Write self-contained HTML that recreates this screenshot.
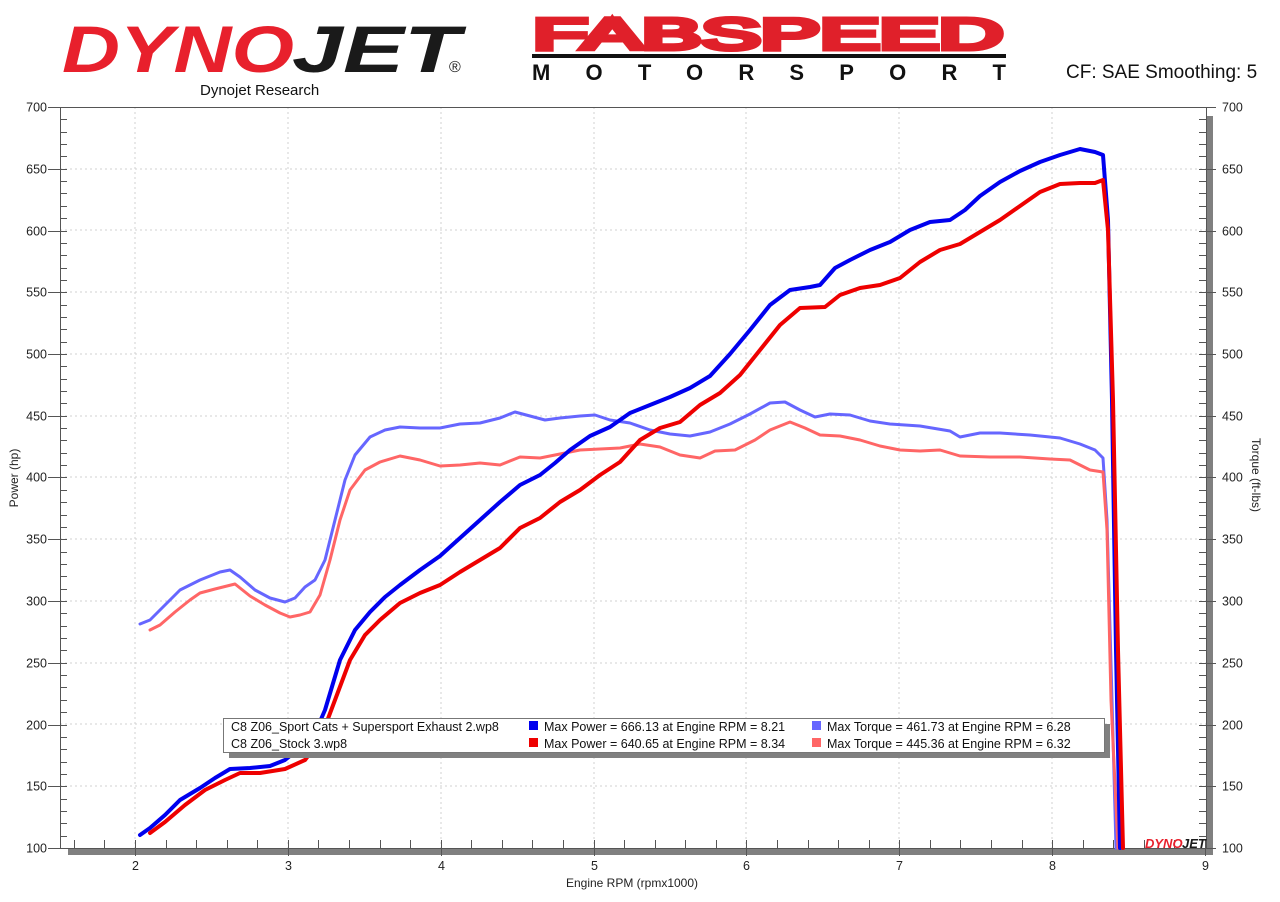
<!DOCTYPE html>
<html><head><style>body{margin:0;background:#fff}svg{display:block}</style></head><body>
<svg width="1280" height="902" viewBox="0 0 1280 902" xmlns="http://www.w3.org/2000/svg" font-family="Liberation Sans, sans-serif">
<rect width="1280" height="902" fill="#fff"/>
<!-- logos -->
<g font-style="italic" font-weight="900" font-size="66">
<text x="62" y="72" fill="#e8202c" textLength="232" lengthAdjust="spacingAndGlyphs">DYNO</text>
<text x="292" y="72" fill="#1a1a1a" textLength="168" lengthAdjust="spacingAndGlyphs">JET</text>
</g>
<text x="449" y="72" font-size="16" fill="#222">®</text>
<text x="200" y="95" font-size="15" fill="#111">Dynojet Research</text>
<text x="533" y="49" font-size="44" fill="#fff" stroke="#e0202a" stroke-width="5" textLength="470" lengthAdjust="spacingAndGlyphs">FABSPEED</text>
<rect x="532" y="54" width="474" height="4" fill="#111"/>
<text x="532" y="80" font-size="22" font-weight="bold" fill="#111" textLength="474" lengthAdjust="spacing">MOTORSPORT</text>
<text x="1066" y="78" font-size="19" fill="#111">CF: SAE Smoothing: 5</text>
<!-- grid -->
<g stroke="#d0d0d0" stroke-dasharray="2,3" stroke-width="1">
<line x1="60" x2="1206" y1="169" y2="169"/><line x1="60" x2="1206" y1="230" y2="230"/><line x1="60" x2="1206" y1="292" y2="292"/><line x1="60" x2="1206" y1="354" y2="354"/><line x1="60" x2="1206" y1="416" y2="416"/><line x1="60" x2="1206" y1="477" y2="477"/><line x1="60" x2="1206" y1="539" y2="539"/><line x1="60" x2="1206" y1="601" y2="601"/><line x1="60" x2="1206" y1="663" y2="663"/><line x1="60" x2="1206" y1="724" y2="724"/><line x1="60" x2="1206" y1="786" y2="786"/>
<line y1="107" y2="848" x1="135" x2="135"/><line y1="107" y2="848" x1="288" x2="288"/><line y1="107" y2="848" x1="441" x2="441"/><line y1="107" y2="848" x1="594" x2="594"/><line y1="107" y2="848" x1="746" x2="746"/><line y1="107" y2="848" x1="899" x2="899"/><line y1="107" y2="848" x1="1052" x2="1052"/>
</g>
<!-- shadows -->
<rect x="68" y="848" width="1145" height="7" fill="#808080"/>
<rect x="1207" y="116" width="6" height="739" fill="#808080"/>
<!-- axes -->
<g stroke="#555" stroke-width="1" fill="none">
<line x1="48" y1="107.5" x2="1216" y2="107.5"/>
<line x1="60.5" y1="107" x2="60.5" y2="848"/>
<line x1="60" y1="848.5" x2="1206" y2="848.5"/>
<line x1="1206.5" y1="107" x2="1206.5" y2="848"/>
</g>
<g id="ticks" stroke="#555" stroke-width="1"></g>
<g font-size="12.5" fill="#222" id="labels"></g>
<text transform="translate(18,478) rotate(-90)" font-size="12" text-anchor="middle" fill="#222">Power (hp)</text>
<text transform="translate(1252,475) rotate(90)" font-size="12" text-anchor="middle" fill="#222">Torque (ft-lbs)</text>
<text x="632" y="887" font-size="12" text-anchor="middle" fill="#222">Engine RPM (rpmx1000)</text>
<g font-style="italic" font-weight="900" font-size="13"><text x="1145" y="848" fill="#e8202c">DYNO</text><text x="1182" y="848" fill="#1a1a1a">JET</text></g>
<!-- series -->
<g fill="none" stroke-linejoin="round" stroke-linecap="round">
<polyline stroke="#6666ff" stroke-width="3" points="140,624 150,620 165,605 180,590 200,580 220,572 230,570 240,577 255,590 270,598 285,602 295,598 305,587 315,580 325,560 335,520 345,480 355,455 370,437 385,430 400,427 420,428 440,428 460,424 480,423 500,418 515,412 530,416 545,420 560,418 580,416 595,415 610,420 630,423 650,430 670,434 690,436 710,432 730,424 750,414 770,403 785,402 800,410 815,417 830,414 850,415 870,421 890,424 920,426 950,431 960,437 980,433 1000,433 1030,435 1060,438 1080,444 1095,450 1103,458 1107,520 1112,700 1116,848"/>
<polyline stroke="#ff6666" stroke-width="3" points="150,630 160,625 175,612 190,600 200,593 215,589 235,584 250,596 265,605 280,613 290,617 300,615 310,612 320,595 330,560 340,520 350,490 365,470 380,462 400,456 420,460 440,466 460,465 480,463 500,465 520,457 540,458 560,454 580,450 600,449 620,448 640,444 660,447 680,455 700,458 715,451 735,450 755,440 770,430 790,422 805,428 820,435 840,436 860,440 880,446 900,450 920,451 940,450 960,456 990,457 1020,457 1050,459 1070,460 1090,470 1103,472 1107,530 1111,700 1118,848"/>
<polyline stroke="#0000ee" stroke-width="4" points="140,835 150,828 165,815 180,800 200,788 215,778 230,769 250,768 270,766 285,760 300,748 315,733 325,710 340,660 355,630 370,612 385,597 400,585 420,570 440,556 460,538 480,520 500,502 520,485 540,475 555,463 570,450 590,436 610,427 630,413 650,405 670,397 690,388 710,376 730,354 750,330 770,305 790,290 810,287 820,285 835,268 850,260 870,250 890,242 910,230 930,222 950,220 965,210 980,196 1000,182 1020,171 1040,162 1060,155 1080,149 1095,152 1103,155 1108,220 1112,400 1116,650 1120,848"/>
<polyline stroke="#ee0000" stroke-width="4" points="150,833 165,822 185,805 205,790 225,780 240,773 260,773 285,769 305,760 320,740 335,700 350,660 365,635 380,620 400,603 420,593 440,585 460,572 480,560 500,548 520,528 540,518 560,502 580,490 600,475 620,462 640,440 660,428 680,422 700,405 720,393 740,375 760,350 780,325 800,308 825,307 840,295 860,288 880,285 900,278 920,262 940,250 960,244 980,232 1000,220 1020,206 1040,192 1060,184 1080,183 1095,183 1103,180 1108,230 1113,400 1118,650 1123,848"/>
</g>
<!-- legend -->
<rect x="229" y="724" width="881" height="34" fill="#808080"/>
<rect x="223.5" y="718.5" width="881" height="34" fill="#fff" stroke="#777"/>
<g font-size="12.5" fill="#111">
<text x="231" y="731">C8 Z06_Sport Cats + Supersport Exhaust 2.wp8</text>
<text x="231" y="748">C8 Z06_Stock 3.wp8</text>
<rect x="529" y="721" width="9" height="9" fill="#0000ee"/><text x="544" y="731">Max Power = 666.13 at Engine RPM = 8.21</text>
<rect x="529" y="738" width="9" height="9" fill="#ee0000"/><text x="544" y="748">Max Power = 640.65 at Engine RPM = 8.34</text>
<rect x="812" y="721" width="9" height="9" fill="#6666ff"/><text x="827" y="731">Max Torque = 461.73 at Engine RPM = 6.28</text>
<rect x="812" y="738" width="9" height="9" fill="#ff6666"/><text x="827" y="748">Max Torque = 445.36 at Engine RPM = 6.32</text>
</g>
<script>
var ns="http://www.w3.org/2000/svg",t=document.getElementById("ticks"),l=document.getElementById("labels");
function ln(a,b,c,d){var e=document.createElementNS(ns,"line");e.setAttribute("x1",a);e.setAttribute("y1",b);e.setAttribute("x2",c);e.setAttribute("y2",d);t.appendChild(e);}
function tx(x,y,s,anc){var e=document.createElementNS(ns,"text");e.setAttribute("x",x);e.setAttribute("y",y);e.setAttribute("text-anchor",anc);e.textContent=s;l.appendChild(e);}
for(var v=100;v<=700;v+=10){var y=Math.round(848-(v-100)*1.235)+0.5;
 if(v%50==0){ln(48,y,67,y);ln(1199,y,1216,y);tx(47,y+4,v,"end");tx(1222,y+4,v,"start");}
 else{ln(60,y,67,y);ln(1199,y,1206,y);}}
for(var i=0;i<=37;i++){var xv=1.6+i*0.2;var x=Math.round(135+(xv-2)*152.86)+0.5;if(x<61||x>1206)continue;
 var isMaj=Math.abs(xv-Math.round(xv))<0.01;
 if(isMaj){ln(x,840,x,856);tx(x,870,Math.round(xv),"middle");}else ln(x,840,x,848);}
</script>
</svg>
</body></html>
